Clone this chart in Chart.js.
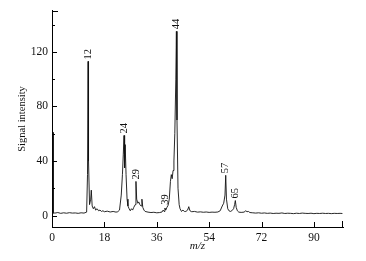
<!DOCTYPE html>
<html>
<head>
<meta charset="utf-8">
<script src="https://cdn.jsdelivr.net/npm/chart.js@4.4.1/dist/chart.umd.min.js"></script>
<style>
  html, body { margin: 0; padding: 0; background: #fff; }
  #wrap { width: 366px; height: 261px; }
</style>
</head>
<body>
<div id="wrap"><canvas id="chart" width="366" height="261"></canvas></div>
<script>
// spectrum
const mz = [
  0, 0.42, 0.45, 0.48, 1, 2, 3, 4, 5, 6, 7, 8, 9, 10, 11, 11.9,
  12.2, 12.4, 12.55, 12.9, 13.3, 13.5, 13.8, 14.2, 14.6, 15, 15.5, 16, 16.5, 17, 17.5, 18,
  19, 20, 21, 22, 22.6, 23.2, 23.8, 24.2, 24.5, 24.75, 24.95, 25.15, 25.45, 25.8, 26.1, 26.5,
  26.9, 27.3, 27.7, 28.1, 28.6, 28.85, 29.1, 29.5, 29.8, 30.2, 30.6, 30.9, 31.2, 31.6, 32,
  33, 34, 35, 36, 37, 37.8, 38.2, 38.5, 38.8, 39.1, 39.5, 39.9, 40.3, 40.7, 41, 41.3, 41.6,
  41.9, 42.2, 42.55, 42.75, 42.95, 43.3, 43.7, 44, 44.5, 45, 45.5, 46, 46.6, 47, 47.4, 48,
  49, 50, 51, 52, 53, 54, 55, 56, 57, 57.8, 58.5, 59, 59.45, 59.7, 59.95, 60.4, 60.8, 61.3,
  61.8, 62.4, 62.75, 63, 63.3, 63.7, 64.2, 65, 66, 66.6, 67, 67.5, 68, 69, 70, 71, 72, 73,
  74, 75, 76, 77, 78, 79, 80, 81, 82, 83, 84, 85, 86, 87, 88, 89, 90, 91, 92, 93, 94, 95,
  96, 97, 98, 99, 99.8
]
const intensity = [
  2, 1.5, 61, 2, 1.8, 2.2, 1.6, 2.0, 1.7, 2.1, 1.8, 1.9, 1.6, 2.0, 1.8, 2.5,
  30, 113, 40, 8, 12, 18.6, 7, 5, 6.5, 4, 5, 3.5, 4, 3, 3.5, 2.8,
  3.2, 2.6, 3, 2.5, 2.8, 4, 15, 30, 45, 58.7, 35, 52, 30, 12, 7, 5,
  3.5, 5, 4, 6, 8, 25, 12, 9, 10, 8, 7, 12, 6, 4, 3,
  2.5, 2.2, 2.4, 2.0, 2.2, 2.6, 4, 3, 5.5, 4, 6, 7.5, 12, 25, 30, 27, 33,
  40, 60, 100, 135, 70, 20, 8, 5, 3, 4, 3, 3, 4, 6.5, 3.5, 2.8,
  3, 2.5, 2.7, 2.4, 2.6, 2.3, 2.5, 2.4, 2.6, 3.5, 7, 9, 15, 29.5, 12, 5, 3.5, 3,
  3.5, 5, 8, 11, 6, 3.5, 2.5, 2.3, 2.5, 3.5, 2.8, 3, 2.2, 2.0, 1.8, 2.0, 1.7, 1.9,
  1.6, 1.8, 1.5, 1.7, 1.6, 1.9, 1.5, 1.7, 1.6, 1.4, 1.7, 1.5, 1.8, 1.6, 1.5, 1.7, 1.4, 1.6, 1.5, 1.7, 1.5, 1.6,
  1.4, 1.6, 1.5, 1.6, 1.5
]

// peak annotations
const peakNames = ['12', '24', '29', '39', '44', '57', '65']
const peakX = [12.4, 24.75, 28.85, 39.0, 42.75, 59.7, 63.0]
const peakY = [113, 58.7, 25, 6.5, 135, 29.5, 11]

const xTicks = [0, 18, 36, 54, 72, 90]
const yTicks = [0, 40, 80, 120]
const yMinorTicks = [20, 60, 100, 140]

const serif = '"Liberation Serif", "DejaVu Serif", serif'

const tickMarks = {
  id: 'tickMarks',
  afterDraw(chart) {
    const ctx = chart.ctx
    const x = chart.scales.x
    const y = chart.scales.y
    const area = chart.chartArea
    ctx.save()
    ctx.strokeStyle = '#000'
    ctx.lineWidth = 1
    ctx.beginPath()
    yTicks.forEach(v => {
      const p = Math.round(y.getPixelForValue(v)) + 0.5
      ctx.moveTo(area.left, p); ctx.lineTo(area.left + 5, p)
    })
    yMinorTicks.forEach(v => {
      const p = Math.round(y.getPixelForValue(v)) + 0.5
      ctx.moveTo(area.left, p); ctx.lineTo(area.left + 3, p)
    })
    const top = Math.round(area.top) + 0.5
    ctx.moveTo(area.left, top); ctx.lineTo(area.left + 6, top)
    xTicks.forEach(v => {
      const p = Math.round(x.getPixelForValue(v)) + 0.5
      ctx.moveTo(p, area.bottom); ctx.lineTo(p, area.bottom - 5)
    })
    const end = Math.round(area.right) - 0.5
    ctx.moveTo(end, area.bottom); ctx.lineTo(end, area.bottom - 6)
    ctx.stroke()

    // peak labels, rotated
    ctx.fillStyle = '#111'
    ctx.font = '10.5px ' + serif
    ctx.textAlign = 'left'
    ctx.textBaseline = 'middle'
    peakNames.forEach((name, i) => {
      ctx.save()
      ctx.translate(x.getPixelForValue(peakX[i]), y.getPixelForValue(peakY[i]) - 2)
      ctx.rotate(-Math.PI / 2)
      ctx.fillText(name, 0, 0)
      ctx.restore()
    })
    ctx.restore()
  }
}

new Chart(document.getElementById('chart'), {
  type: 'scatter',
  data: {
    datasets: [{
      data: mz.map((v, i) => ({ x: v, y: intensity[i] })),
      showLine: true,
      borderColor: '#111',
      borderWidth: 0.9,
      pointRadius: 0,
      tension: 0
    }]
  },
  options: {
    responsive: false,
    animation: false,
    layout: { padding: { top: 10, right: 23, left: 0, bottom: 0 } },
    plugins: { legend: { display: false }, tooltip: { enabled: false } },
    scales: {
      x: {
        type: 'linear',
        min: 0,
        max: 100,
        afterBuildTicks: s => { s.ticks = xTicks.map(v => ({ value: v })) },
        afterFit: s => { s.height = 34 },
        grid: { display: false, drawTicks: false },
        border: { display: true, color: '#000', width: 1 },
        ticks: { color: '#111', font: { family: serif, size: 11.5 }, padding: 4, maxRotation: 0 },
        title: { display: true, text: 'm/z', color: '#111', font: { family: serif, size: 11, style: 'italic' }, padding: { top: 0, bottom: 8 } }
      },
      y: {
        type: 'linear',
        min: -8.4,
        max: 150,
        afterBuildTicks: s => { s.ticks = yTicks.map(v => ({ value: v })) },
        afterFit: s => { s.width = 52 },
        grid: { display: false, drawTicks: false },
        border: { display: true, color: '#000', width: 1 },
        ticks: { color: '#111', font: { family: serif, size: 11.5 }, padding: 4 },
        title: { display: true, text: 'Signal intensity', color: '#111', font: { family: serif, size: 10.5 }, padding: { top: 16, bottom: 0 } }
      }
    }
  },
  plugins: [tickMarks]
})
</script>
</body>
</html>
